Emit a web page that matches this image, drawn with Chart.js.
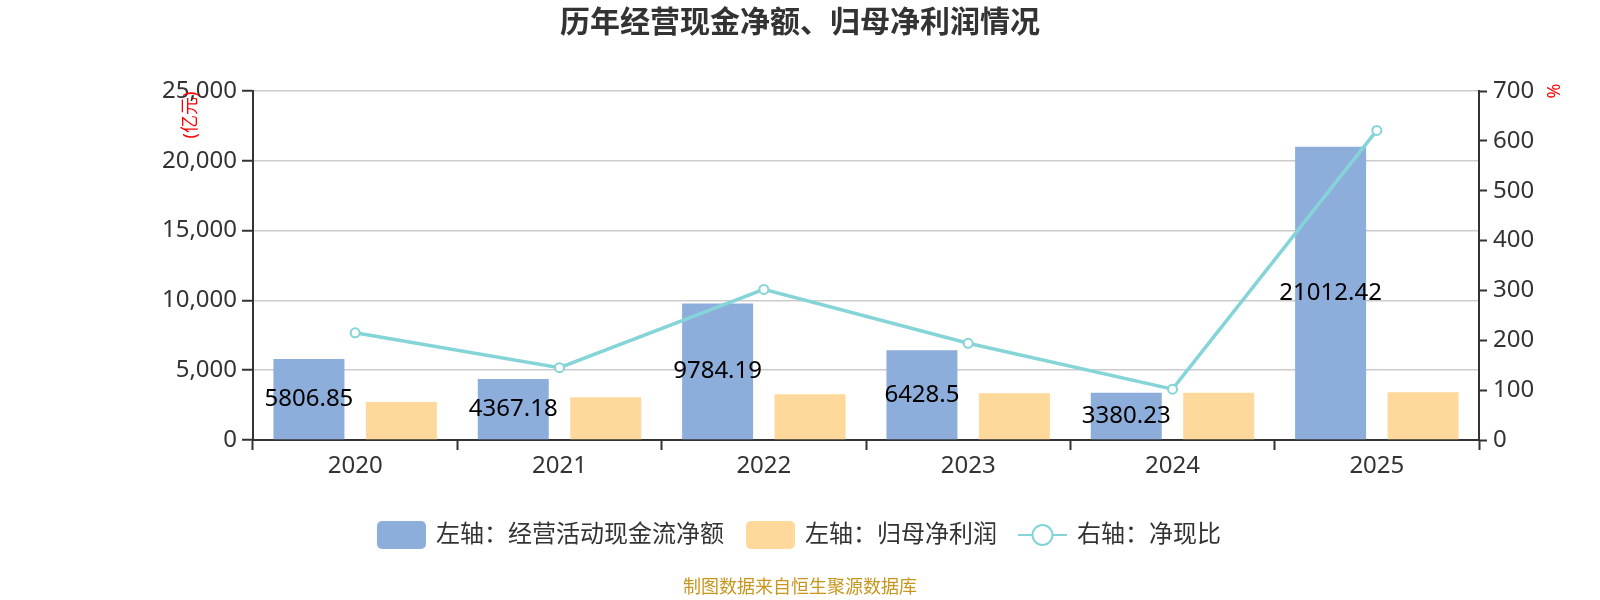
<!DOCTYPE html>
<html>
<head>
<meta charset="utf-8">
<title>历年经营现金净额、归母净利润情况</title>
<script src="https://cdn.jsdelivr.net/npm/chart.js@4/dist/chart.umd.min.js"></script>
<style>
  html, body { margin: 0; padding: 0; background: #fff; }
  #wrap { width: 1600px; height: 600px; }
</style>
</head>
<body>
<div id="wrap"><canvas id="chart" width="1600" height="600"></canvas></div>
<script>
  // Data
  const years = ['2020', '2021', '2022', '2023', '2024', '2025'];
  const cashFlow = [5806.85, 4367.18, 9784.19, 6428.5, 3380.23, 21012.42];   // 亿元
  const netProfit = [2720, 3056, 3271, 3342, 3386, 3414];                     // 亿元 (estimated)
  const cashRatio = [215, 145, 302, 194, 102, 621];                           // % (estimated)
  const leftTicks = [0, 5000, 10000, 15000, 20000, 25000];
  const rightTicks = [0, 100, 200, 300, 400, 500, 600, 700];

  const FONT = '"Noto Sans", "Noto Sans CJK SC", sans-serif';
  const BLUE = '#8daedb';
  const ORANGE = '#fed99b';
  const TEAL = '#84d4d8';

  // Draws title, axis names, value labels, legend and source note
  const decorPlugin = {
    id: 'decor',
    afterDatasetsDraw(chart) {
      const ctx = chart.ctx;

      // value labels in the middle of the blue bars
      const meta = chart.getDatasetMeta(0);
      ctx.save();
      ctx.font = '24px ' + FONT;
      ctx.fillStyle = '#000';
      ctx.textAlign = 'center';
      ctx.textBaseline = 'middle';
      meta.data.forEach((bar, i) => {
        const mid = (bar.y + bar.base) / 2;
        ctx.fillText(String(cashFlow[i]), bar.x, mid);
      });
      ctx.restore();
    },
    afterDraw(chart) {
      const ctx = chart.ctx;
      ctx.save();

      // title
      ctx.font = 'bold 30px ' + FONT;
      ctx.fillStyle = '#333';
      ctx.textAlign = 'center';
      ctx.textBaseline = 'middle';
      ctx.fillText('历年经营现金净额、归母净利润情况', 800, 23);

      // axis names
      ctx.font = '18px ' + FONT;
      ctx.fillStyle = '#ff0000';
      ctx.save();
      ctx.translate(191, 115);
      ctx.rotate(-Math.PI / 2);
      ctx.fillText('(亿元)', 0, 0);
      ctx.restore();
      ctx.save();
      ctx.translate(1555, 91);
      ctx.rotate(-Math.PI / 2);
      ctx.fillText('%', 0, 0);
      ctx.restore();

      // legend
      const ly = 535;
      ctx.font = '24px ' + FONT;
      ctx.textAlign = 'left';
      const ds = chart.data.datasets;

      ctx.fillStyle = BLUE;
      ctx.beginPath();
      ctx.roundRect(377, ly - 14, 49, 28, 5);
      ctx.fill();
      ctx.fillStyle = '#333';
      ctx.fillText(ds[0].label, 436, ly);

      ctx.fillStyle = ORANGE;
      ctx.beginPath();
      ctx.roundRect(746, ly - 14, 49, 28, 5);
      ctx.fill();
      ctx.fillStyle = '#333';
      ctx.fillText(ds[1].label, 805, ly);

      ctx.strokeStyle = TEAL;
      ctx.lineWidth = 2;
      ctx.beginPath();
      ctx.moveTo(1018, ly);
      ctx.lineTo(1067, ly);
      ctx.stroke();
      ctx.beginPath();
      ctx.arc(1042.5, ly, 10, 0, Math.PI * 2);
      ctx.fillStyle = '#fff';
      ctx.fill();
      ctx.stroke();
      ctx.fillStyle = '#333';
      ctx.fillText(ds[2].label, 1077, ly);

      // source note
      ctx.font = '18px ' + FONT;
      ctx.fillStyle = '#c8961e';
      ctx.textAlign = 'center';
      ctx.fillText('制图数据来自恒生聚源数据库', 800, 588);

      ctx.restore();
    }
  };

  const chart = new Chart(document.getElementById('chart'), {
    type: 'bar',
    data: {
      labels: years,
      datasets: [
        {
          label: '左轴：经营活动现金流净额',
          data: cashFlow,
          backgroundColor: BLUE,
          yAxisID: 'y',
          order: 2,
          categoryPercentage: 0.905,
          barPercentage: 0.768
        },
        {
          label: '左轴：归母净利润',
          data: netProfit,
          backgroundColor: ORANGE,
          yAxisID: 'y',
          order: 2,
          categoryPercentage: 0.905,
          barPercentage: 0.768
        },
        {
          type: 'line',
          label: '右轴：净现比',
          data: cashRatio,
          borderColor: TEAL,
          borderWidth: 3.5,
          pointRadius: 4.5,
          pointBorderWidth: 2,
          pointBackgroundColor: '#fff',
          pointBorderColor: TEAL,
          tension: 0,
          yAxisID: 'y1',
          order: 1
        }
      ]
    },
    options: {
      responsive: false,
      animation: false,
      layout: { padding: { top: 91, bottom: 0, left: 0, right: 0 } },
      plugins: {
        legend: { display: false },
        title: { display: false },
        tooltip: { enabled: false }
      },
      scales: {
        x: {
          afterFit(scale) { scale.height = 160; },
          grid: { drawOnChartArea: false, drawTicks: true, tickLength: 10, tickColor: '#333', tickWidth: 2 },
          border: { color: '#333', width: 2 },
          ticks: { color: '#333', font: { size: 24, family: FONT }, padding: 2 }
        },
        y: {
          position: 'left',
          min: 0,
          max: 25000,
          afterFit(scale) { scale.width = 253; },
          afterBuildTicks(scale) { scale.ticks = leftTicks.map(v => ({ value: v })); },
          grid: { color: '#cccccc', lineWidth: 1.5, tickLength: 11, tickColor: '#333', tickWidth: 2 },
          border: { color: '#333', width: 2 },
          ticks: {
            color: '#333',
            font: { size: 24, family: FONT },
            padding: 5,
            callback: v => v.toLocaleString('en-US')
          }
        },
        y1: {
          position: 'right',
          min: 0,
          max: 700,
          afterFit(scale) { scale.width = 121; },
          afterBuildTicks(scale) { scale.ticks = rightTicks.map(v => ({ value: v })); },
          grid: { drawOnChartArea: false, tickLength: 8, tickColor: '#333', tickWidth: 2 },
          border: { color: '#333', width: 2 },
          ticks: { color: '#333', font: { size: 24, family: FONT }, padding: 6 }
        }
      }
    },
    plugins: [decorPlugin]
  });
</script>
</body>
</html>
